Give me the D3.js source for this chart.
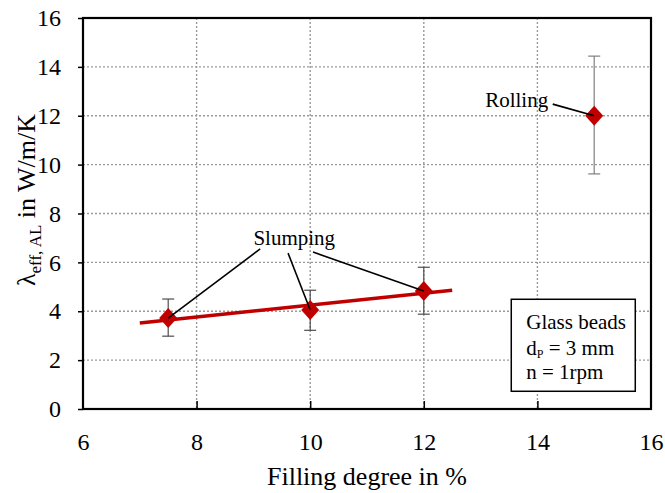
<!DOCTYPE html>
<html>
<head>
<meta charset="utf-8">
<script src="https://cdn.jsdelivr.net/npm/d3@7"></script>
<style>
  body { margin: 0; background: #fff; }
  svg text { font-family: "Liberation Serif", "Times New Roman", serif !important; fill: #000; }
</style>
</head>
<body>
<div id="chart"></div>
<script>
// data
var filling = [7.5, 10, 12, 15];
var lambdaEff = [3.72, 4.05, 4.83, 12.0];
var errLow = [2.98, 3.22, 3.88, 9.62];
var errHigh = [4.5, 4.86, 5.8, 14.44];
var trendX = [7, 12.5];
var trendY = [3.52, 4.86];
var xTicks = [6, 8, 10, 12, 14, 16];
var yTicks = [0, 2, 4, 6, 8, 10, 12, 14, 16];

var svgWidth = 665, svgHeight = 493;
var margin = { top: 18, right: 14, bottom: 84, left: 83 };
var width = svgWidth - margin.left - margin.right;
var height = svgHeight - margin.top - margin.bottom;

var svg = d3.select("#chart").append("svg")
  .attr("width", svgWidth)
  .attr("height", svgHeight)
  .attr("font-family", "Liberation Serif, Times New Roman, serif");

var g = svg.append("g")
  .attr("transform", `translate(${margin.left}, ${margin.top})`);

var x = d3.scaleLinear().domain([6, 16]).range([0, width]);
var y = d3.scaleLinear().domain([0, 16]).range([height, 0]);

// dotted grid
g.selectAll(".hgrid").data(yTicks.slice(1, -1)).enter().append("line")
  .attr("x1", 0).attr("x2", width)
  .attr("y1", d => y(d)).attr("y2", d => y(d))
  .attr("stroke", "#9a9a9a").attr("stroke-width", 1.4).attr("stroke-dasharray", "2,2");
g.selectAll(".vgrid").data(xTicks.slice(1, -1)).enter().append("line")
  .attr("y1", 0).attr("y2", height)
  .attr("x1", d => x(d)).attr("x2", d => x(d))
  .attr("stroke", "#9a9a9a").attr("stroke-width", 1.4).attr("stroke-dasharray", "2,2");

// axes
var xAxis = g.append("g")
  .attr("transform", `translate(0, ${height})`)
  .call(d3.axisBottom(x).tickValues(xTicks).tickSize(-8).tickSizeOuter(0).tickPadding(24));
var yAxis = g.append("g")
  .call(d3.axisLeft(y).tickValues(yTicks).tickSize(5).tickSizeOuter(0).tickPadding(17));
[xAxis, yAxis].forEach(function(a) {
  a.attr("font-family", null).attr("font-size", null);
  a.select(".domain").remove();
  a.selectAll("line").attr("stroke", "#000").attr("stroke-width", 1.5);
  a.selectAll("text").style("font-size", "24px");
});
xAxis.selectAll(".tick").filter(d => d == 6 || d == 16).select("line").remove();

// plot frame
g.append("rect")
  .attr("x", 0).attr("y", 0).attr("width", width).attr("height", height)
  .attr("fill", "none").attr("stroke", "#000").attr("stroke-width", 2.2);

// error bars
var pts = filling.map((f, i) => ({ x: f, y: lambdaEff[i], lo: errLow[i], hi: errHigh[i] }));
var eb = g.selectAll(".err").data(pts).enter().append("g")
  .attr("stroke", (d, i) => i == 3 ? "#7f7f7f" : "#4d4d4d").attr("stroke-width", 1.2);
eb.append("line").attr("x1", d => x(d.x)).attr("x2", d => x(d.x))
  .attr("y1", d => y(d.lo)).attr("y2", d => y(d.hi));
eb.append("line").attr("x1", d => x(d.x) - 6).attr("x2", d => x(d.x) + 6)
  .attr("y1", d => y(d.lo)).attr("y2", d => y(d.lo));
eb.append("line").attr("x1", d => x(d.x) - 6).attr("x2", d => x(d.x) + 6)
  .attr("y1", d => y(d.hi)).attr("y2", d => y(d.hi));

// trend line
g.append("path")
  .datum(trendX.map((v, i) => [v, trendY[i]]))
  .attr("d", d3.line().x(d => x(d[0])).y(d => y(d[1])))
  .attr("stroke", "#c00000").attr("stroke-width", 3.5).attr("fill", "none");

// diamonds
g.selectAll(".pt").data(pts).enter().append("path")
  .attr("transform", d => `translate(${x(d.x)}, ${y(d.y)})`)
  .attr("d", "M0,-10L9,0L0,10L-9,0Z")
  .attr("fill", "#c00000");

// annotations
var slumpLines = [[9.12, 6.55], [9.61, 6.38], [10.05, 6.42]];
g.selectAll(".slump").data(slumpLines).enter().append("line")
  .attr("x1", d => x(d[0])).attr("y1", d => y(d[1]))
  .attr("x2", (d, i) => x(pts[i].x)).attr("y2", (d, i) => y(pts[i].y))
  .attr("stroke", "#000").attr("stroke-width", 1.6);
g.append("text")
  .attr("x", x(9.72)).attr("y", y(6.71))
  .attr("text-anchor", "middle")
  .style("font-size", "21px")
  .text("Slumping");

g.append("line")
  .attr("x1", x(14.27)).attr("y1", y(12.48))
  .attr("x2", x(pts[3].x)).attr("y2", y(pts[3].y))
  .attr("stroke", "#000").attr("stroke-width", 1.8);
g.append("text")
  .attr("x", x(14.19)).attr("y", y(12.36))
  .attr("text-anchor", "end")
  .style("font-size", "21px")
  .text("Rolling");

// info box
var box = g.append("g").attr("transform", `translate(${x(13.54)}, ${y(4.49)})`);
box.append("rect")
  .attr("width", 124).attr("height", 92)
  .attr("fill", "#fff").attr("stroke", "#000").attr("stroke-width", 1.5);
box.append("text").attr("x", 15).attr("y", 30).style("font-size", "21px").text("Glass beads");
var dp = box.append("text").attr("x", 15).attr("y", 56).style("font-size", "21px");
dp.append("tspan").text("d");
dp.append("tspan").attr("dy", 3).style("font-size", "12px").text("P");
dp.append("tspan").attr("dy", -3).text(" = 3 mm");
box.append("text").attr("x", 15).attr("y", 80).style("font-size", "21px").text("n = 1rpm");

// axis titles
svg.append("text")
  .attr("x", margin.left + width / 2).attr("y", 485)
  .attr("text-anchor", "middle")
  .style("font-size", "26px")
  .text("Filling degree in %");

var yt = svg.append("text")
  .attr("transform", "translate(35, 200) rotate(-90)")
  .attr("text-anchor", "middle")
  .style("font-size", "26px");
yt.append("tspan").text("λ");
yt.append("tspan").attr("dy", 6).style("font-size", "17px").text("eff, AL");
yt.append("tspan").attr("dy", -6).text(" in W/m/K");
</script>
</body>
</html>
